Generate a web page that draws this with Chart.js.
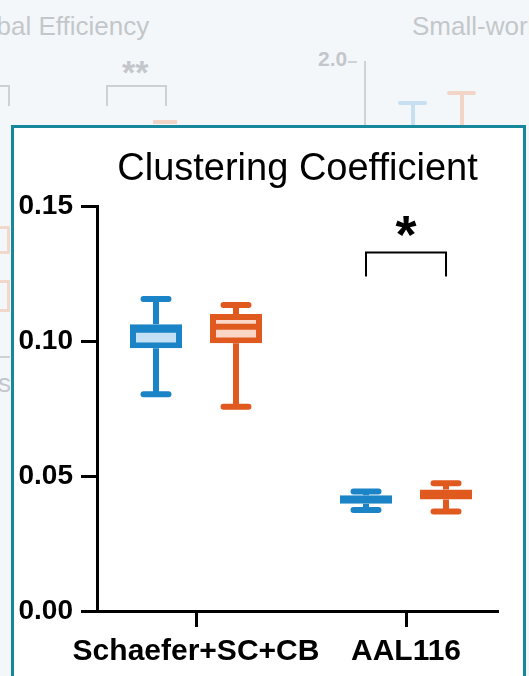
<!DOCTYPE html>
<html>
<head>
<meta charset="utf-8">
<title>Clustering Coefficient</title>
<script src="https://cdn.jsdelivr.net/npm/chart.js@4.4.1/dist/chart.umd.min.js"></script>
<style>
  html, body { margin: 0; padding: 0; }
  body {
    width: 529px; height: 676px; overflow: hidden; position: relative;
    background: #f4f7f9;
    font-family: "Liberation Sans", Arial, sans-serif;
  }
  /* faded neighbouring panels behind the active one */
  .bg { position: absolute; white-space: nowrap; color: #c3c7cb; line-height: 1; }
  .ln { position: absolute; background: #cfd3d6; }
  .brk { position: absolute; border: 2px solid #cdd1d4; border-bottom: none; }
  #panel {
    position: absolute; left: 11px; top: 125px; width: 515px; height: 600px;
    box-sizing: border-box; border: 3px solid #17889b; background: #fff;
  }
  #cc { position: absolute; left: 0; top: 0; }
</style>
</head>
<body>
<div class="bg" style="left:-44px;top:13px;font-size:26px;">Global Efficiency</div>
<div class="bg" style="left:412px;top:13px;font-size:26px;">Small-worldness</div>
<div class="bg" style="left:122px;top:55px;font-size:34px;font-weight:bold;">**</div>
<div class="brk" style="left:106px;top:85px;width:57px;height:19px;"></div>
<div class="brk" style="left:-20px;top:85px;width:26px;height:19px;"></div>
<div class="bg" style="left:318px;top:48px;font-size:21px;font-weight:bold;">2.0</div>
<div class="ln" style="left:348px;top:61px;width:9px;height:2px;"></div>
<div class="ln" style="left:364px;top:61px;width:2px;height:70px;"></div>
<div class="ln" style="left:398px;top:101px;width:29px;height:4px;border-radius:2px;background:#c6e0f1;"></div>
<div class="ln" style="left:411px;top:103px;width:4px;height:25px;background:#c6e0f1;"></div>
<div class="ln" style="left:447px;top:91px;width:29px;height:4px;border-radius:2px;background:#f3d5c8;"></div>
<div class="ln" style="left:460px;top:93px;width:4px;height:35px;background:#f3d5c8;"></div>
<div class="ln" style="left:153px;top:120px;width:24px;height:4px;background:#f3d5c8;"></div>
<div class="brk" style="left:-20px;top:226px;width:24px;height:22px;border:3px solid #f2d8cc;"></div>
<div class="brk" style="left:-20px;top:280px;width:24px;height:26px;border:3px solid #f2d8cc;"></div>
<div class="ln" style="left:0;top:356px;width:10px;height:2px;"></div>
<div class="bg" style="left:-2px;top:370px;font-size:26px;">s</div>
<div id="panel"></div>
<canvas id="cc" width="529" height="676"></canvas>
<script>
var categories = ["Schaefer+SC+CB", "AAL116"];
var yTicks = [0, 0.05, 0.1, 0.15];

// box summaries for the two cohorts: whisker ends, box edges, median
var blueMax = [0.1157, 0.0443];
var blueQ3 = [0.1064, 0.0429];
var blueMed = [0.1043, 0.0414];
var blueQ1 = [0.0975, 0.0398];
var blueMin = [0.0804, 0.0375];

var orangeMax = [0.1135, 0.0474];
var orangeQ3 = [0.1102, 0.0451];
var orangeMed = [0.1054, 0.0432];
var orangeQ1 = [0.0993, 0.0414];
var orangeMin = [0.0758, 0.0369];

// significance bracket over the AAL116 pair
var sigIndex = 1;
var sigText = "*";
var sigBracket = [0.1241, 0.133];
var sigTextLevel = 0.1426;

var FONT = "'Liberation Sans', Arial, sans-serif";
var LW = 6;

var series = [
  { label: "group 1", color: "#1a84c7", fill: "#c4e0f4",
    min: blueMin, q1: blueQ1, med: blueMed, q3: blueQ3, max: blueMax },
  { label: "group 2", color: "#e05a20", fill: "#f9d6c6",
    min: orangeMin, q1: orangeQ1, med: orangeMed, q3: orangeQ3, max: orangeMax }
];

function boxData(q1, q3) {
  return q1.map(function (v, i) { return { x: i, y: [v, q3[i]] }; });
}

// whiskers behind the boxes, medians and the significance mark on top
var boxPlot = {
  id: "boxPlot",
  beforeDatasetsDraw: function (chart) {
    var ctx = chart.ctx, y = chart.scales.y;
    series.forEach(function (s, di) {
      chart.getDatasetMeta(di).data.forEach(function (bar, i) {
        var x = bar.x, half = bar.width * 0.24;
        ctx.save();
        ctx.strokeStyle = s.color;
        ctx.lineWidth = LW;
        ctx.beginPath();
        ctx.moveTo(x, y.getPixelForValue(s.max[i]));
        ctx.lineTo(x, y.getPixelForValue(s.q3[i]));
        ctx.moveTo(x, y.getPixelForValue(s.q1[i]));
        ctx.lineTo(x, y.getPixelForValue(s.min[i]));
        ctx.stroke();
        ctx.lineCap = "round";
        ctx.beginPath();
        [s.max[i], s.min[i]].forEach(function (v) {
          var py = y.getPixelForValue(v);
          ctx.moveTo(x - half, py);
          ctx.lineTo(x + half, py);
        });
        ctx.stroke();
        ctx.restore();
      });
    });
  },
  afterDatasetsDraw: function (chart) {
    var ctx = chart.ctx, y = chart.scales.y;
    series.forEach(function (s, di) {
      chart.getDatasetMeta(di).data.forEach(function (bar, i) {
        var py = y.getPixelForValue(s.med[i]);
        ctx.save();
        ctx.strokeStyle = s.color;
        ctx.lineWidth = LW;
        ctx.beginPath();
        ctx.moveTo(bar.x - bar.width / 2, py);
        ctx.lineTo(bar.x + bar.width / 2, py);
        ctx.stroke();
        ctx.restore();
      });
    });

    var x1 = chart.getDatasetMeta(0).data[sigIndex].x;
    var x2 = chart.getDatasetMeta(1).data[sigIndex].x;
    var yLeg = y.getPixelForValue(sigBracket[0]);
    var yTop = y.getPixelForValue(sigBracket[1]);
    ctx.save();
    ctx.strokeStyle = "#000";
    ctx.lineWidth = 2;
    ctx.beginPath();
    ctx.moveTo(x1, yLeg);
    ctx.lineTo(x1, yTop);
    ctx.lineTo(x2, yTop);
    ctx.lineTo(x2, yLeg);
    ctx.stroke();
    ctx.fillStyle = "#000";
    ctx.font = "bold 54px " + FONT;
    ctx.textAlign = "center";
    ctx.textBaseline = "alphabetic";
    var m = ctx.measureText(sigText);
    var cy = y.getPixelForValue(sigTextLevel);
    ctx.fillText(sigText, (x1 + x2) / 2, cy + (m.actualBoundingBoxAscent - m.actualBoundingBoxDescent) / 2);
    ctx.restore();
  }
};

var axisGrid = { drawOnChartArea: false, offset: false, tickLength: 16, tickWidth: 3, tickColor: "#000" };
var axisBorder = { color: "#000", width: 3 };

new Chart(document.getElementById("cc"), {
  type: "bar",
  data: {
    datasets: series.map(function (s) {
      return {
        label: s.label,
        data: boxData(s.q1, s.q3),
        backgroundColor: s.fill,
        borderColor: s.color,
        borderWidth: LW,
        borderSkipped: false,
        categoryPercentage: 0.762,
        barPercentage: 0.65
      };
    })
  },
  options: {
    responsive: false,
    animation: false,
    clip: false,
    layout: { padding: { left: 0, right: 31, top: 0, bottom: 6 } },
    plugins: {
      legend: { display: false },
      tooltip: { enabled: false },
      title: {
        display: true,
        text: "Clustering Coefficient",
        fullSize: false,
        color: "#000",
        font: { family: FONT, size: 38, weight: "normal" },
        padding: { top: 147, bottom: 14 }
      }
    },
    scales: {
      x: {
        type: "linear",
        offset: false,
        min: -0.4714,
        max: 1.438,
        afterBuildTicks: function (scale) {
          scale.ticks = categories.map(function (c, i) { return { value: i }; });
        },
        afterFit: function (scale) { scale.height = 59; },
        ticks: {
          callback: function (v) { return categories[v]; },
          color: "#000",
          font: { family: FONT, size: 30, weight: "bold" },
          padding: 7,
          maxRotation: 0,
          autoSkip: false
        },
        grid: axisGrid,
        border: axisBorder
      },
      y: {
        min: 0,
        max: 0.15,
        afterBuildTicks: function (scale) {
          scale.ticks = yTicks.map(function (v) { return { value: v }; });
        },
        afterFit: function (scale) { scale.width = 97; },
        ticks: {
          callback: function (v) { return v.toFixed(2); },
          color: "#000",
          font: { family: FONT, size: 28, weight: "bold" },
          padding: 8
        },
        grid: axisGrid,
        border: axisBorder
      }
    }
  },
  plugins: [boxPlot]
});
</script>
</body>
</html>
